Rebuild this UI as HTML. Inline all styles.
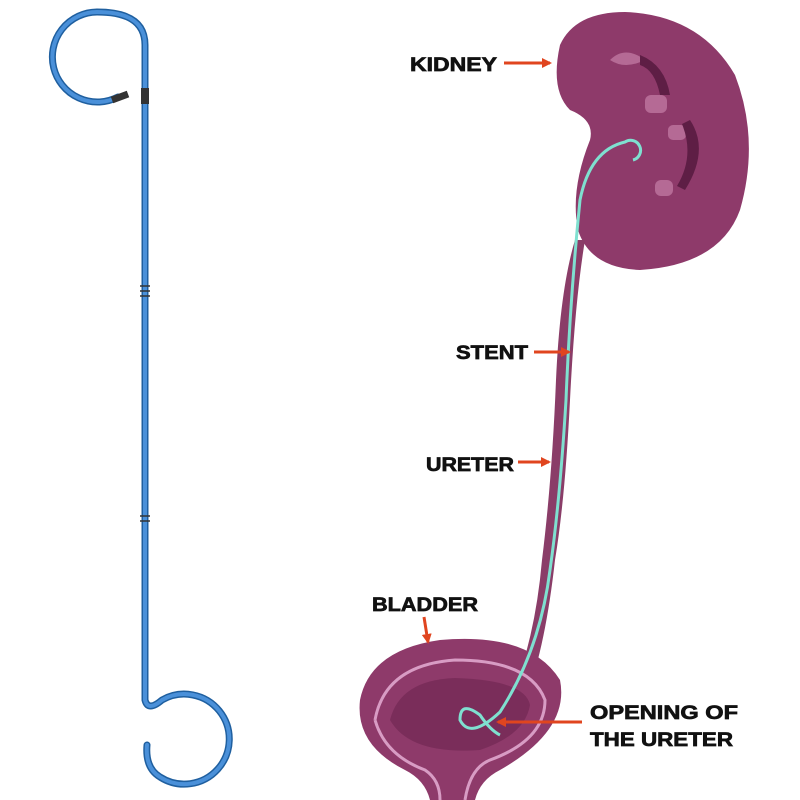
<!DOCTYPE html>
<html><head><style>body{margin:0;background:#fff}svg{display:block}text{font-family:"Liberation Sans",sans-serif;font-weight:bold;font-size:19px;fill:#111;stroke:#111;stroke-width:0.7px}</style></head>
<body><svg width="800" height="800" viewBox="0 0 800 800">
<defs><marker id="a" markerUnits="userSpaceOnUse" markerWidth="10" markerHeight="10" refX="8" refY="5" orient="auto"><path d="M0,0L10,5L0,10z" fill="#e0451f"/></marker></defs>
<!-- left stent -->
<g fill="none" stroke="#1f5f9f" stroke-width="7" stroke-linecap="round">
<path d="M118,97 A45,45 0 1 1 97,12 C125,12 145,20 145,45 L145,700 Q148,712 162,700 A45,45 0 1 1 160,777 Q145,768 147,745"/>
</g>
<g fill="none" stroke="#4a90d9" stroke-width="4" stroke-linecap="round">
<path d="M118,97 A45,45 0 1 1 97,12 C125,12 145,20 145,45 L145,700 Q148,712 162,700 A45,45 0 1 1 160,777 Q145,768 147,745"/>
</g>
<path d="M112,100 L128,94" stroke="#333" stroke-width="7"/>
<rect x="141" y="88" width="8" height="16" fill="#333"/>
<g stroke="#333" stroke-width="1.5"><line x1="140" y1="286" x2="150" y2="286"/><line x1="140" y1="291" x2="150" y2="291"/><line x1="140" y1="296" x2="150" y2="296"/><line x1="140" y1="516" x2="150" y2="516"/><line x1="140" y1="521" x2="150" y2="521"/></g>
<!-- kidney -->
<path d="M560,45 Q575,12 625,12 Q700,15 735,75 Q760,140 740,210 Q720,265 640,270 Q590,268 578,230 Q570,190 590,140 Q595,120 570,110 Q550,90 560,45z" fill="#8e3a6a"/>
<g fill="#b56a95"><path d="M610,60 q15,-15 35,0 q-20,10 -35,0z"/><rect x="645" y="95" width="22" height="18" rx="6"/><rect x="668" y="125" width="18" height="15" rx="5"/><rect x="655" y="180" width="18" height="16" rx="6"/></g>
<g fill="#5e1e45"><path d="M640,55 q25,10 30,40 l-10,0 q-5,-25 -20,-30z"/><path d="M690,120 q20,30 -5,70 l-8,-4 q18,-30 5,-62z"/></g>
<!-- ureter -->
<path d="M585,240 Q575,300 570,400 Q565,500 555,560 Q545,650 525,700 L510,700 Q535,640 542,560 Q552,480 556,380 Q560,290 575,240z" fill="#8a3d68"/>
<!-- bladder -->
<path d="M360,700 Q370,650 440,640 Q530,632 560,680 Q570,730 500,770 Q480,780 475,800 L430,800 Q425,780 405,770 Q355,745 360,700z" fill="#8e3a6a"/>
<path d="M375,720 Q385,665 455,660 Q530,660 545,700 Q545,740 490,760 Q470,768 465,800 M375,720 Q385,755 425,770 Q440,780 440,800" fill="none" stroke="#d89cc4" stroke-width="3"/>
<path d="M390,720 Q400,680 455,678 Q525,680 530,705 Q525,735 480,750 Q410,755 390,720z" fill="#7a2d5a"/>
<!-- stent in body -->
<path d="M633,160 a10,10 0 1 0 -8,-18 Q590,150 580,200 Q570,300 566,400 Q560,500 550,570 Q540,650 500,712 Q470,740 460,720 Q460,700 480,715 Q490,730 500,735" fill="none" stroke="#7fe0d0" stroke-width="3"/>
<!-- labels -->
<text x="410" y="71" textLength="87" lengthAdjust="spacingAndGlyphs">KIDNEY</text><line x1="504" y1="63" x2="550" y2="63" stroke="#e0451f" stroke-width="3" marker-end="url(#a)"/>
<text x="456" y="359" textLength="72" lengthAdjust="spacingAndGlyphs">STENT</text><line x1="534" y1="352" x2="569" y2="352" stroke="#e0451f" stroke-width="3" marker-end="url(#a)"/>
<text x="426" y="471" textLength="88" lengthAdjust="spacingAndGlyphs">URETER</text><line x1="518" y1="462" x2="549" y2="462" stroke="#e0451f" stroke-width="3" marker-end="url(#a)"/>
<text x="372" y="611" textLength="106" lengthAdjust="spacingAndGlyphs">BLADDER</text><line x1="424" y1="617" x2="428" y2="642" stroke="#e0451f" stroke-width="3" marker-end="url(#a)"/>
<text x="590" y="719" textLength="148" lengthAdjust="spacingAndGlyphs">OPENING OF</text><text x="590" y="746" textLength="143" lengthAdjust="spacingAndGlyphs">THE URETER</text>
<line x1="582" y1="722" x2="498" y2="722" stroke="#e0451f" stroke-width="3" marker-end="url(#a)"/>
</svg></body></html>
